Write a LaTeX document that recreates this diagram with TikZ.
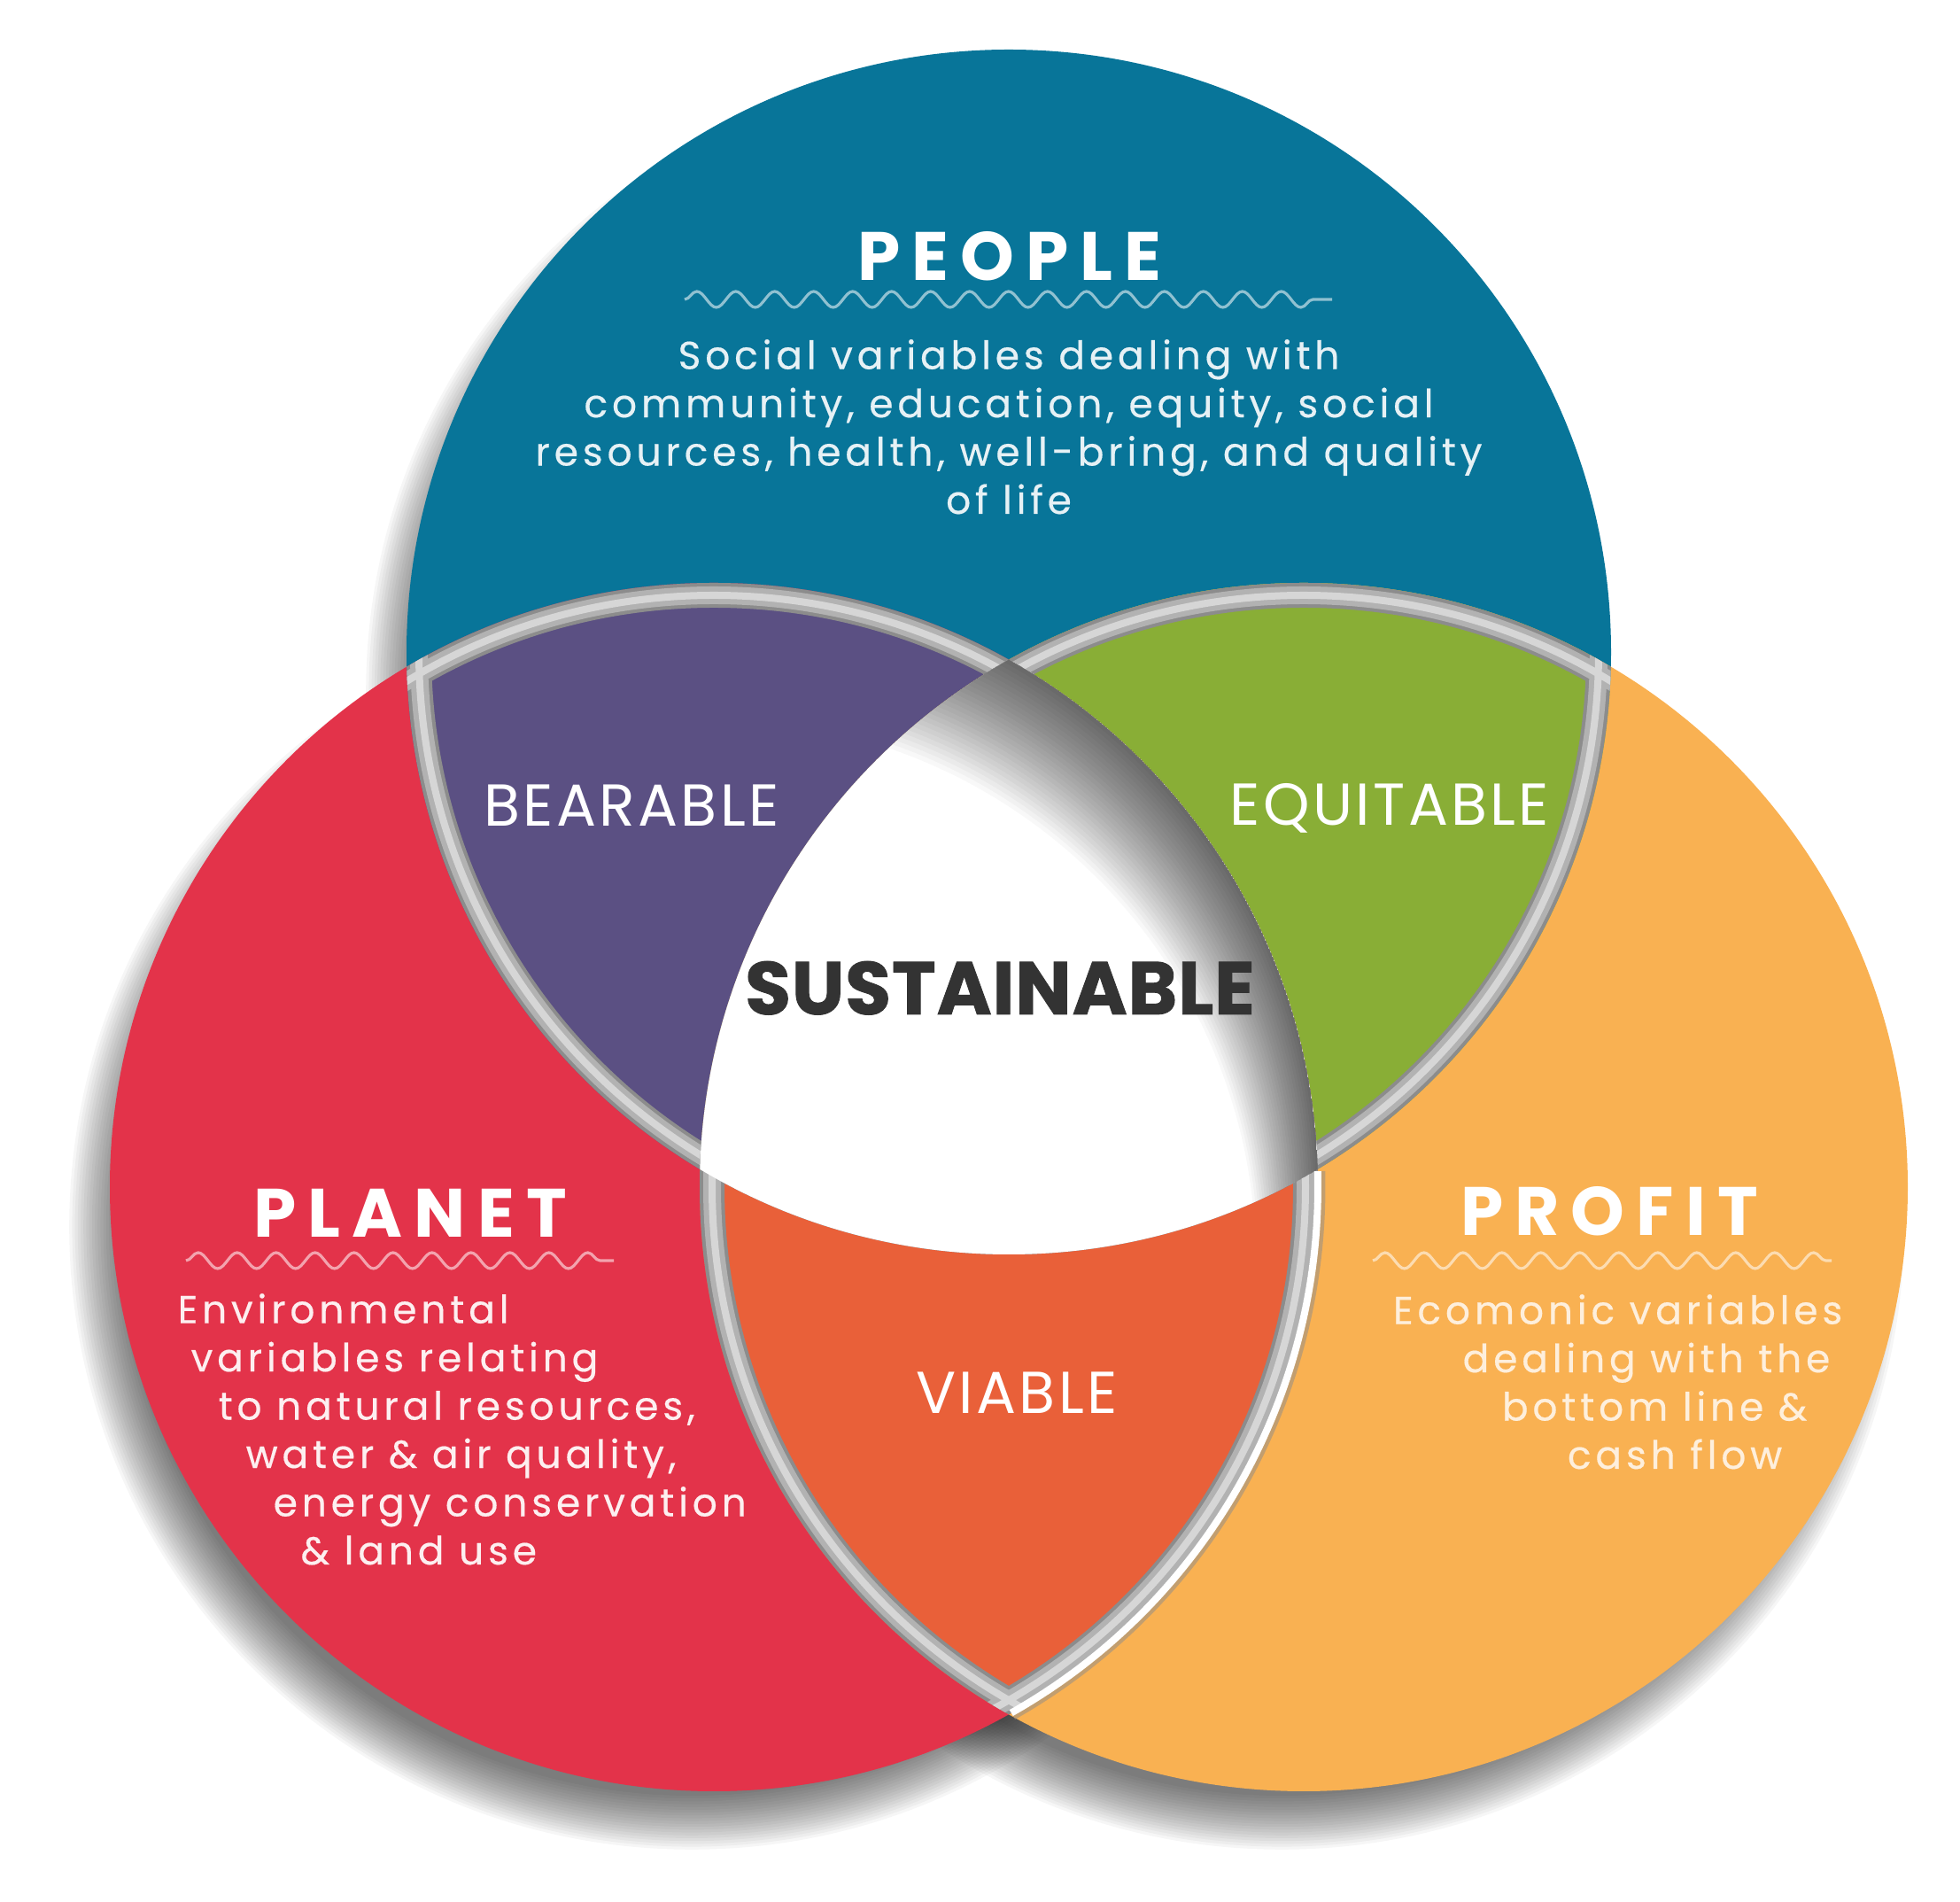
\documentclass[tikz,border=0pt]{standalone}
\usepackage{fontspec}
\setmainfont{Poppins}
\usetikzlibrary{decorations.pathmorphing}
\definecolor{peopleblue}{RGB}{8,117,153}
\definecolor{bearpurple}{RGB}{91,80,131}
\definecolor{equigreen}{RGB}{137,174,54}
\definecolor{planetred}{RGB}{227,51,74}
\definecolor{viableorange}{RGB}{233,96,57}
\definecolor{profityellow}{RGB}{249,177,82}
\definecolor{rimgray}{RGB}{140,140,140}
\definecolor{rimmid}{RGB}{178,178,178}
\definecolor{rimhigh}{RGB}{214,214,214}
\definecolor{darktext}{RGB}{51,51,51}
\begin{document}
\begin{tikzpicture}[
  title/.style={text=white,font=\fontsize{22}{26}\selectfont\bfseries\addfontfeatures{LetterSpace=17}},
  lenstext/.style={text=white,font=\fontsize{19}{23}\selectfont\addfontfeatures{LetterSpace=5}},
  body/.style={inner sep=0pt,font=\fontsize{12.5}{15.5}\selectfont\addfontfeatures{LetterSpace=11,FakeBold=0.4}},
  wavy/.style={decorate,decoration={snake,segment length=0.44cm,amplitude=0.09cm},line width=0.9pt},
  rim/.style={draw=rimgray,line width=0.56cm},
  rimsoft/.style={draw=rimmid,line width=0.2cm},
  rimlight/.style={draw=rimhigh,line width=0.08cm}]
\useasboundingbox (0,0) rectangle (22.13,21.47);
\coordinate (T) at (11.39,14.11);
\coordinate (L) at (8.06,8.07);
\coordinate (R) at (14.72,8.07);
\foreach \c/\r in {T/6.80,L/6.82,R/6.82}
  \foreach \k in {0,...,19}
    \fill[black,opacity=0.034] ([shift={(-0.25,-0.45)}]\c) circle ({\r-0.4+0.032*\k});
\fill[peopleblue] (T) circle (6.80);
\fill[profityellow] (R) circle (6.82);
\fill[planetred] (L) circle (6.82);
\begin{scope}
\clip (T) circle (6.80);
\fill[bearpurple] (L) circle (6.82);
\fill[equigreen] (R) circle (6.82);
\end{scope}
\begin{scope}
\clip (L) circle (6.82);
\fill[viableorange] (R) circle (6.82);
\end{scope}
\begin{scope}
\clip (T) circle (6.80);
\clip (L) circle (6.82);
\draw[rim] (T) circle (6.80) (L) circle (6.82);
\draw[rimsoft] (T) circle (6.66) (L) circle (6.68);
\draw[rimlight] (T) circle (6.66) (L) circle (6.68);
\end{scope}
\begin{scope}
\clip (T) circle (6.80);
\clip (R) circle (6.82);
\draw[rim] (T) circle (6.80) (R) circle (6.82);
\draw[rimsoft] (T) circle (6.66) (R) circle (6.68);
\draw[rimlight] (T) circle (6.66) (R) circle (6.68);
\end{scope}
\begin{scope}
\clip (L) circle (6.82);
\clip (R) circle (6.82);
\draw[rim] (L) circle (6.82) (R) circle (6.82);
\draw[rimsoft] (L) circle (6.68) (R) circle (6.68);
\draw[rimlight] (L) circle (6.68) (R) circle (6.68);
\end{scope}
\begin{scope}
\clip (T) circle (6.80);
\clip (L) circle (6.82);
\fill[white] (R) circle (6.82);
\clip (R) circle (6.82);
\foreach \k in {1,...,28}
  \fill[black,opacity=0.028,even odd rule] (L) circle (6.82) ([yshift={-0.03cm*\k}]L) circle ({6.82-0.025*\k});
\end{scope}
\draw[black!45,opacity=0.5,line width=0.05cm] ([shift={(1.5:6.88)}]L) arc (1.5:-60.5:6.88);
\draw[white,line width=0.08cm] ([shift={(1.5:6.82)}]L) arc (1.5:-60.5:6.82);

\node (people) at (11.40,18.30)[title,anchor=base]{PEOPLE};
\draw[wavy,white!55!peopleblue] (7.73,18.09) -- (15.04,18.09);
\node (peopletxt) at (11.39,15.67)[body,anchor=base,align=center,text=white!90!peopleblue]{Social variables dealing with\\community, education, equity, social\\resources, health, well-bring, and quality\\of life};

\node (planet) at (4.63,7.50)[title,anchor=base]{PLANET};
\draw[wavy,white!55!planetred] (2.10,7.24) -- (6.93,7.24);
\node (planettxt) at (2.00,3.81)[body,anchor=base west,align=left,text=white!92!planetred]{Environmental\\\hspace*{0.15cm}variables relating\\\hspace*{0.46cm}to natural resources,\\\hspace*{0.77cm}water \& air quality,\\\hspace*{1.08cm}energy conservation\\\hspace*{1.39cm}\& land use};

\node (profit) at (18.17,7.52)[title,anchor=base]{PROFIT};
\draw[wavy,white!55!profityellow] (15.50,7.24) -- (20.68,7.24);
\node (profittxt) at (20.81,4.89)[body,anchor=base east,align=right,text=white!80!profityellow]{Ecomonic variables\\dealing with the\rule{0.14cm}{0pt}\\bottom line \&\rule{0.40cm}{0pt}\\cash flow\rule{0.68cm}{0pt}};

\node (bearable) at (7.13,12.14)[lenstext,anchor=base]{BEARABLE};
\node (equitable) at (15.69,12.15)[lenstext,anchor=base]{EQUITABLE};
\node (viable) at (11.48,5.51)[lenstext,anchor=base]{VIABLE};
\node (sustainable) at (11.29,10.02)[anchor=base,text=darktext,font=\fontsize{24}{28}\selectfont\bfseries\addfontfeatures{LetterSpace=1,FakeBold=1}]{SUSTAINABLE};
\end{tikzpicture}
\end{document}
